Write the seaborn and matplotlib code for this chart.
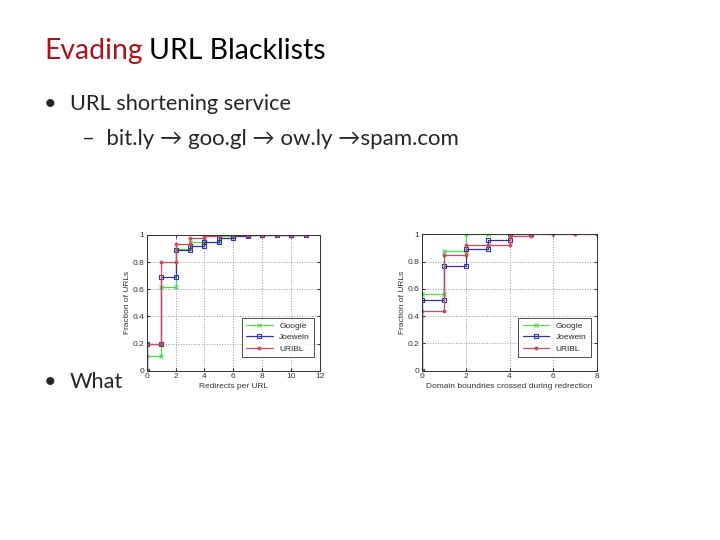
import matplotlib
matplotlib.use("Agg")
import matplotlib.pyplot as plt
import seaborn as sns
from matplotlib.patches import Rectangle

# data
redirects = list(range(12))
google_redirects = [0.11, 0.62, 0.90, 0.945, 0.95, 0.99, 0.99, 1.0, 1.0, 1.0, 1.0, 1.0]
joewein_redirects = [0.20, 0.69, 0.89, 0.92, 0.95, 0.975, 0.99, 1.0, 1.0, 1.0, 1.0, 1.0]
uribl_redirects = [0.20, 0.80, 0.93, 0.975, 0.99, 1.0, 1.0, 1.0, 1.0, 1.0, 1.0, 1.0]

domains_google = [0, 1, 2, 3, 4]
google_domains = [0.56, 0.88, 1.0, 1.0, 1.0]
domains_joewein = [0, 1, 2, 3, 4, 5]
joewein_domains = [0.52, 0.77, 0.89, 0.96, 1.0, 1.0]
domains_uribl = [0, 1, 2, 3, 4, 5, 6, 7, 8]
uribl_domains = [0.44, 0.85, 0.92, 0.92, 0.985, 1.0, 1.0, 1.0, 1.0]

series_names = ["Google", "Joewein", "URIBL"]
series_colors = ["#55d855", "#333399", "#d04a5a"]
series_markers = ["x", "s", "."]

sns.set_style("white")
plt.rcParams["font.family"] = ["Liberation Sans", "DejaVu Sans"]

W, H = 720, 540
fig = plt.figure(figsize=(7.2, 5.4), dpi=100)
fig.patch.set_facecolor("white")


def fx(px):
    return px / W


def fy(py):
    return 1 - py / H


def stairs(x, y):
    # MATLAB-like stairs: every corner is a vertex (so every corner gets a marker)
    xs, ys = [x[0]], [0.0]
    for i in range(len(x)):
        if i > 0:
            xs.append(x[i])
            ys.append(y[i - 1])
        xs.append(x[i])
        ys.append(y[i])
    return xs, ys


# slide text
slide_font = ["Lato", "DejaVu Sans"]
fig.text(fx(44), fy(59), "Evading", color="#a5161c", fontsize=20.4, family=slide_font, va="baseline")
fig.text(fx(149), fy(59), "URL Blacklists", color="black", fontsize=20.4, family=slide_font, va="baseline")
fig.text(fx(44), fy(110), "\u2022", fontsize=15.7, family=slide_font, va="baseline")
fig.text(fx(70), fy(110), "URL shortening service", fontsize=15.7, family=slide_font, va="baseline")
fig.text(fx(82), fy(145), "\u2013  bit.ly \u2192 goo.gl \u2192 ow.ly \u2192spam.com", fontsize=16,
         family=slide_font, va="baseline")
fig.text(fx(44), fy(388), "\u2022", fontsize=15.7, family=slide_font, va="baseline")
fig.text(fx(70), fy(388), "What", fontsize=15.7, family=slide_font, va="baseline")

# white background of the pasted figure, covering the end of "What"
fig.patches.append(Rectangle((fx(121), fy(402)), fx(210), 177 / H, transform=fig.transFigure,
                             facecolor="white", edgecolor="none", zorder=2))


def panel(ax, data, xlim, xticks, xlabel):
    for (x, y), name, c, m in zip(data, series_names, series_colors, series_markers):
        xs, ys = stairs(x, y)
        kw = dict(marker=m, color=c, linewidth=0.9, markersize=3.5 if m != "." else 4,
                  markeredgewidth=0.8, markeredgecolor=c)
        if m == "s":
            kw["markerfacecolor"] = "none"
        sns.lineplot(x=xs, y=ys, sort=False, estimator=None, ax=ax, label=name, **kw)
    ax.set_xlim(*xlim)
    ax.set_ylim(0, 1)
    ax.set_xticks(xticks)
    ax.set_yticks([0, 0.2, 0.4, 0.6, 0.8, 1.0])
    ax.set_yticklabels(["0", "0.2", "0.4", "0.6", "0.8", "1"])
    ax.grid(True, linestyle=":", color="#999999", linewidth=0.7)
    ax.tick_params(direction="in", length=2, labelsize=6, pad=2, colors="#333333",
                   top=True, right=True, bottom=True, left=True)
    for s in ax.spines.values():
        s.set_color("#333333")
        s.set_linewidth(0.7)
    ax.set_xlabel(xlabel, fontsize=6, color="#333333", labelpad=2)
    ax.set_ylabel("Fraction of URLs", fontsize=6, color="#333333", labelpad=1)
    leg = ax.legend(loc="lower right", fontsize=6, frameon=True, fancybox=False,
                    borderpad=0.5, handlelength=3.2, labelspacing=0.45, bbox_to_anchor=(0.99, 0.07))
    leg.get_frame().set_edgecolor("#222222")
    leg.get_frame().set_linewidth(0.7)
    ax.set_facecolor("white")


ax1 = fig.add_axes([fx(146.7), fy(370.7), fx(320 - 146.7), (370.7 - 235) / H], zorder=3)
panel(ax1,
      [(redirects, google_redirects), (redirects, joewein_redirects), (redirects, uribl_redirects)],
      (0, 12), [0, 2, 4, 6, 8, 10, 12], "Redirects per URL")

ax2 = fig.add_axes([fx(422.3), fy(370.7), fx(596.7 - 422.3), (370.7 - 234.3) / H], zorder=3)
panel(ax2,
      [(domains_google, google_domains), (domains_joewein, joewein_domains), (domains_uribl, uribl_domains)],
      (0, 8), [0, 2, 4, 6, 8], "Domain boundries crossed during redrection")

fig.savefig("out.png", dpi=100, facecolor="white")
